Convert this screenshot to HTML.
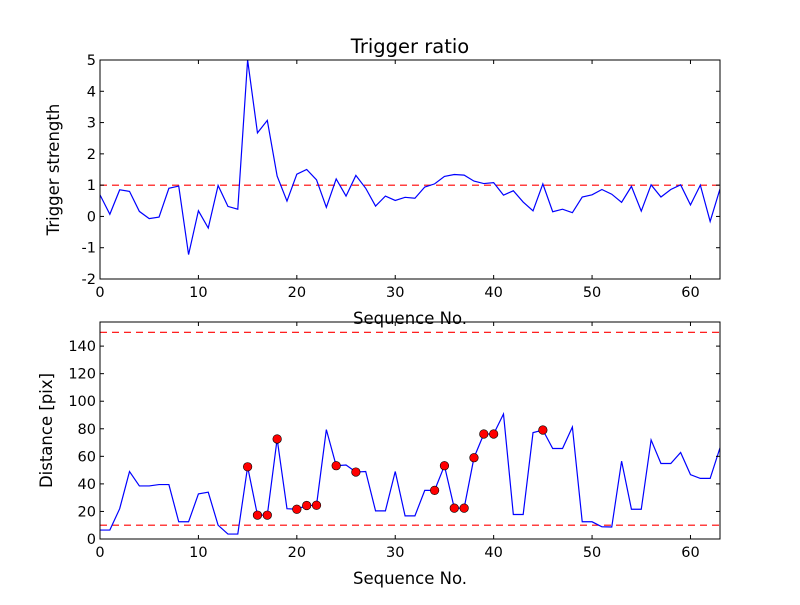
<!DOCTYPE html>
<html><head><meta charset="utf-8"><style>
body{margin:0;background:#fff;}
svg{font-family:"DejaVu Sans","Liberation Sans",sans-serif;}
</style></head><body>
<svg id="chart" width="800" height="600" viewBox="0 0 800 600" xmlns="http://www.w3.org/2000/svg">
<rect width="800" height="600" fill="#fff"/>
</svg>
<script>
const seqIndex = Array.from({length:64},(_,i)=>i);
const strength = [0.69,0.07,0.85,0.8,0.16,-0.07,-0.02,0.9,0.97,-1.22,0.18,-0.37,0.99,0.32,0.23,5,2.67,3.07,1.29,0.49,1.35,1.5,1.17,0.29,1.2,0.65,1.31,0.9,0.33,0.65,0.51,0.61,0.58,0.94,1.04,1.28,1.34,1.32,1.13,1.05,1.08,0.68,0.82,0.46,0.18,1.04,0.15,0.23,0.12,0.62,0.69,0.86,0.71,0.45,0.96,0.17,1.01,0.62,0.86,1.01,0.37,1.0,-0.16,0.88];
const distance = [6.5,6.5,22,49,38.5,38.5,39.5,39.5,12.5,12.5,32.7,34,10,3.6,3.6,52.4,17.3,17.3,72.6,22,21.6,24.3,24.5,79.4,53.2,53.7,48.6,49,20.4,20.4,49,16.8,16.8,35.3,35.3,53.2,22.4,22.4,59,76.2,76.2,90.7,17.8,17.8,77.2,79.1,65.7,65.7,81.3,12.5,12.5,8.9,8.7,56.5,21.6,21.6,71.9,54.8,54.8,62.8,46.7,44,44,66.2];
const markerIdx = [15,16,17,18,20,21,22,24,26,34,35,36,37,38,39,40,45];
const xTicks = [0,10,20,30,40,50,60];
const topYTicks = [-2,-1,0,1,2,3,4,5];
const botYTicks = [0,20,40,60,80,100,120,140];
const topThreshold = [1];
const botThresholds = [10,150];

const NS="http://www.w3.org/2000/svg";
const svg=document.getElementById('chart');
function mk(tag,attrs,parent){const e=document.createElementNS(NS,tag);for(const k in attrs)e.setAttribute(k,attrs[k]);(parent||svg).appendChild(e);return e;}
const L=100,R=720;
function xs(v){return L+(v-0)/(63-0)*(R-L);}
function panel(top,bot,ymin,ymax,yTicks,series,thr,ylabel,title,pname,ylx){
  const ys=v=>bot-(v-ymin)/(ymax-ymin)*(bot-top);
  const g=mk('g',{});
  
  
  const clipId='clip-'+pname;
  const cp=mk('clipPath',{id:clipId},g);mk('rect',{x:L,y:top,width:R-L,height:bot-top},cp);
  thr.forEach(t=>{const l=mk('line',{x1:L,x2:R,y1:ys(t),y2:ys(t),stroke:'#ff0000','stroke-width':1.1,'stroke-dasharray':'7,5','clip-path':`url(#${clipId})`},g);
    
    });
  const pts=seqIndex.map((x,i)=>xs(x).toFixed(2)+','+ys(series[i]).toFixed(2)).join(' ');
  const pl=mk('polyline',{points:pts,fill:'none',stroke:'#0000ff','stroke-width':1.2,'clip-path':`url(#${clipId})`},g);
  
  
  mk('rect',{x:L,y:top,width:R-L,height:bot-top,fill:'none',stroke:'#000','stroke-width':1},g);
  xTicks.forEach(t=>{const x=xs(t);
    mk('line',{x1:x,x2:x,y1:bot,y2:bot-4,stroke:'#000'},g);
    mk('line',{x1:x,x2:x,y1:top,y2:top+4,stroke:'#000'},g);
    const tx=mk('text',{x:x,y:bot+18,'font-size':14.5,'text-anchor':'middle'},g);tx.textContent=t;
    
    });
  yTicks.forEach(t=>{const y=ys(t);
    mk('line',{x1:L,x2:L+4,y1:y,y2:y,stroke:'#000'},g);
    mk('line',{x1:R,x2:R-4,y1:y,y2:y,stroke:'#000'},g);
    const tx=mk('text',{x:L-4,y:y+5,'font-size':14.5,'text-anchor':'end'},g);tx.textContent=t;
    
    });
  const xl=mk('text',{x:(L+R)/2,y:bot+45,'font-size':16.5,'text-anchor':'middle'},g);xl.textContent='Sequence No.';
  
  
  const cy=(top+bot)/2;
  const yl=mk('text',{x:0,y:0,'font-size':16.5,'text-anchor':'middle',transform:`translate(${ylx},${cy}) rotate(-90)`},g);yl.textContent=ylabel;
  
  
  if(title){const tt=mk('text',{x:(L+R)/2,y:top-7,'font-size':19.5,'text-anchor':'middle'},g);tt.textContent=title;
    
    }
  return ys;
}
panel(60,279,-2,5,topYTicks,strength,topThreshold,'Trigger strength','Trigger ratio','top-panel',59);
const ysb=panel(322,539,0,157.5,botYTicks,distance,botThresholds,'Distance [pix]',null,'bottom-panel',52);
markerIdx.forEach(i=>{const c=mk('circle',{cx:xs(seqIndex[i]),cy:ysb(distance[i]),r:4.3,fill:'#ff0000',stroke:'#000','stroke-width':0.6});
  
  });
</script>
</body></html>
